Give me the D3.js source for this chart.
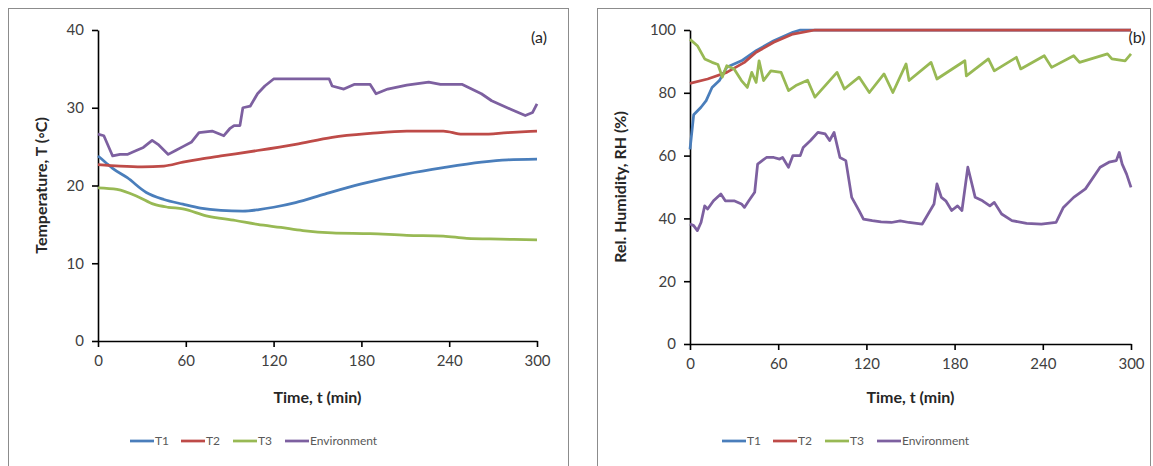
<!DOCTYPE html>
<html><head><meta charset="utf-8">
<script src="https://cdn.jsdelivr.net/npm/d3@7/dist/d3.min.js"></script>
<style>
html,body{margin:0;padding:0;background:#fff;}
svg{display:block;font-family:Lato,"Open Sans",sans-serif;}
</style></head>
<body>
<svg id="chart" width="1153" height="466"></svg>
<script>
// ---------- DATA ----------
const timeTicks = [0, 60, 120, 180, 240, 300];
const tempTicks = [0, 10, 20, 30, 40];
const rhTicks = [0, 20, 40, 60, 80, 100];
const seriesNames = ["T1", "T2", "T3", "Environment"];
const seriesColors = ["#4A7EBB", "#BE4B48", "#98B954", "#7D60A0"];

// Panel (a) temperature [time min, T °C]
const tempT1 = [[0,23.8],[5,23.0],[10,22.2],[20,21.0],[33,19.1],[45,18.2],[58,17.6],[70,17.1],[84,16.8],[99,16.7],[110,16.9],[120,17.2],[135,17.8],[155,18.9],[180,20.2],[211,21.5],[236,22.3],[262,23.0],[280,23.3],[300,23.4]];
const tempT2 = [[0,22.7],[15,22.5],[30,22.4],[45,22.5],[58,23.0],[70,23.4],[84,23.8],[109,24.5],[135,25.3],[160,26.2],[186,26.7],[211,27.0],[236,27.0],[249,26.6],[262,26.6],[280,26.8],[300,27.0]];
const tempT3 = [[0,19.7],[13,19.5],[28,18.5],[38,17.6],[48,17.2],[58,17.0],[74,16.1],[94,15.5],[109,15.0],[125,14.6],[140,14.2],[160,13.9],[186,13.8],[211,13.6],[236,13.5],[252,13.2],[275,13.1],[300,13.0]];
const tempEnv = [[0,26.6],[4,26.4],[10,23.8],[15,24.0],[20,24.0],[25,24.4],[31,24.9],[37,25.8],[41,25.3],[48,24.0],[53,24.5],[58,25.0],[64,25.6],[69,26.8],[78,27.0],[86,26.4],[90,27.3],[93,27.7],[97,27.7],[99,30.0],[104,30.2],[109,31.8],[114,32.8],[120,33.7],[158,33.7],[160,32.8],[168,32.4],[175,33.0],[186,33.0],[190,31.8],[198,32.4],[211,32.9],[226,33.3],[234,33.0],[249,33.0],[262,31.8],[269,30.9],[282,29.8],[292,29.0],[297,29.4],[300,30.5]];

// Panel (b) relative humidity [time min, RH %]
const rhT1 = [[0,62],[2.5,73],[7.5,75.4],[11,77.5],[15,81.7],[20,83.9],[25,88.1],[35,90.2],[45,93.4],[57,96.6],[70,99.3],[75,100],[300,100]];
const rhT2 = [[0,83],[12,84.4],[25,86.5],[37,89.7],[45,92.9],[57,96.1],[70,98.7],[85,100],[300,100]];
const rhT3 = [[0,97],[5,95],[10,90.8],[15,89.7],[19,89],[22,85],[25,88.6],[30,87.6],[35,83.9],[39,81.7],[42,86.5],[45,83.3],[47,90.2],[50,83.9],[55,87],[62,86.5],[67,80.7],[72,82.3],[80,84],[85,78.6],[100,86.5],[105,81.2],[115,85],[122,80.1],[132,86],[138,80.1],[147,89.2],[149,83.9],[164,89.7],[168,84.4],[187,90.2],[188,85.4],[203,90.8],[207,87],[222,91.3],[225,87.6],[241,91.8],[246,88.1],[261,91.8],[265,89.7],[284,92.4],[287,90.8],[296,90.2],[300,92.4]];
const rhEnv = [[0,38.2],[2.5,37.7],[5,36.1],[7.5,38.7],[10,44],[12,43],[16,45.6],[21,47.8],[24,45.6],[30,45.6],[35,44.6],[37,43.5],[40,45.6],[44,48.3],[46,57.3],[52,59.4],[57,59.4],[61,58.9],[63,59.4],[67,56.3],[70,60],[75,60],[77,62.6],[82,64.8],[87,67.4],[92,66.9],[95,64.8],[98,67.4],[102,59.4],[106,58.4],[110,46.7],[115,42.5],[118,39.8],[124,39.3],[130,38.9],[137,38.7],[143,39.2],[149,38.7],[158,38.2],[162,41.4],[166,44.6],[168,51],[171,46.7],[174,45.6],[178,42.5],[182,44],[185,42.5],[189,56.3],[194,46.7],[199,45.6],[204,44],[207,45.1],[212,41.4],[219,39.3],[229,38.4],[239,38.2],[249,38.7],[254,43.5],[261,46.7],[269,49.4],[279,56.3],[285,57.9],[290,58.4],[292,61],[294,57.3],[297,54.1],[300,49.9]];

// ---------- DRAW ----------
const svg = d3.select("#chart");

function panel(cfg) {
  const g = svg.append("g");
  g.append("rect").attr("x", cfg.frame[0] + 0.5).attr("y", 8.5)
    .attr("width", cfg.frame[1] - cfg.frame[0]).attr("height", 480)
    .attr("fill", "none").attr("stroke", "#8c8c8c").attr("stroke-width", 1);

  const x = d3.scaleLinear().domain([0, 300]).range([cfg.x0, cfg.x1]);
  const y = d3.scaleLinear().domain(cfg.yDomain).range([cfg.y0, cfg.y1]);

  const xAxis = g.append("g").attr("transform", `translate(0,${cfg.y0})`)
    .call(d3.axisBottom(x).tickValues(timeTicks).tickSize(6).tickPadding(8).tickSizeOuter(0));
  const yAxis = g.append("g").attr("transform", `translate(${cfg.x0},0)`)
    .call(d3.axisLeft(y).tickValues(cfg.yTicks).tickSize(6).tickPadding(8).tickSizeOuter(0));
  [xAxis, yAxis].forEach(a => {
    a.select(".domain").attr("stroke", "#000").attr("stroke-width", 1.6);
    a.selectAll(".tick line").attr("stroke", "#000").attr("stroke-width", 1.6);
    a.selectAll(".tick text").attr("fill", "#404040").style("font-size", "15px").style("font-family", "Lato, sans-serif");
  });

  const lineLin = d3.line().x(d => x(d[0])).y(d => y(d[1]));
  const lineSmooth = d3.line().x(d => x(d[0])).y(d => y(d[1])).curve(d3.curveMonotoneX);
  cfg.series.forEach((s, i) => {
    g.append("path").datum(s).attr("fill", "none")
      .attr("stroke", seriesColors[i]).attr("stroke-width", 2.75)
      .attr("stroke-linejoin", "round")
      .attr("d", cfg.smooth[i] ? lineSmooth : lineLin);
  });

  g.append("text").attr("x", (cfg.x0 + cfg.x1) / 2).attr("y", 403)
    .attr("text-anchor", "middle").attr("font-weight", "bold").attr("font-size", 16)
    .attr("fill", "#262626").text("Time, t (min)");
  g.append("text").attr("transform", `translate(${cfg.yTitleX},${(cfg.y0 + cfg.y1) / 2}) rotate(-90)`)
    .attr("text-anchor", "middle").attr("font-weight", "bold").attr("font-size", 16)
    .attr("fill", "#262626").text(cfg.yTitle);

  g.append("text").attr("x", cfg.labelX).attr("y", 43).attr("text-anchor", "middle")
    .attr("font-size", 16).attr("fill", "#262626").text(cfg.label);

  const lg = g.append("g").attr("transform", `translate(${cfg.legendX},441)`);
  const offsets = [0, 51, 103, 155];
  seriesNames.forEach((n, i) => {
    const e = lg.append("g").attr("transform", `translate(${offsets[i]},0)`);
    e.append("line").attr("x1", 0).attr("x2", 24).attr("y1", 0).attr("y2", 0)
      .attr("stroke", seriesColors[i]).attr("stroke-width", 2.75);
    e.append("text").attr("x", 25).attr("y", 4).attr("font-size", 12)
      .attr("fill", "#595959").text(n);
  });
}

panel({
  frame: [8, 568], x0: 98, x1: 537, y0: 341, y1: 30,
  yDomain: [0, 40], yTicks: tempTicks,
  series: [tempT1, tempT2, tempT3, tempEnv], smooth: [true, true, true, false],
  yTitle: "Temperature, T (\u25E6C)", yTitleX: 47,
  label: "(a)", labelX: 539, legendX: 130
});
panel({
  frame: [597, 1150], x0: 690, x1: 1131, y0: 344, y1: 30,
  yDomain: [0, 100], yTicks: rhTicks,
  series: [rhT1, rhT2, rhT3, rhEnv], smooth: [false, false, false, false],
  yTitle: "Rel. Humidity, RH (%)", yTitleX: 626,
  label: "(b)", labelX: 1137, legendX: 722
});
</script>
</body></html>
